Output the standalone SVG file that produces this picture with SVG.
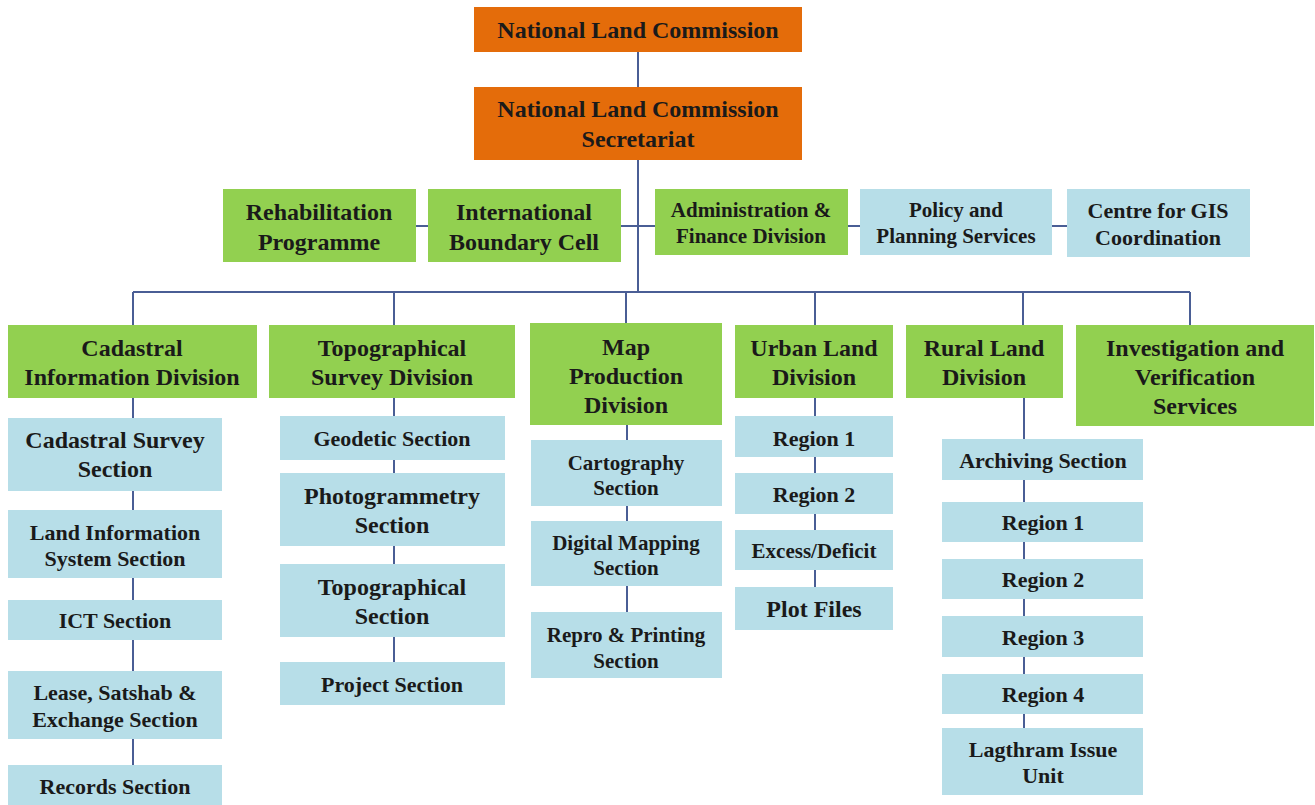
<svg xmlns="http://www.w3.org/2000/svg" width="1315" height="805" viewBox="0 0 1315 805">
  <style>
    .org { fill: #E46C0A; }
    .grn { fill: #92D050; }
    .blu { fill: #B7DEE8; }
    .t { font-family: "Liberation Serif", "Times New Roman", serif; font-weight: bold; font-size: 24px; text-anchor: middle; fill: #1a1a1a; }
    .m { font-size: 22px; }
    .s { font-size: 21px; }
    .ln { stroke: #4A5E95; stroke-width: 2; fill: none; }
  </style>
  <rect width="1315" height="805" fill="#ffffff"/>

  <!-- connectors -->
  <g id="connectors" class="ln">
    <path d="M638 52 V87 M638 160 V292"/>
    <path d="M416 226 H428 M621 226 H655 M848 226 H860 M1052 226 H1067"/>
    <path d="M133 292 H1190"/>
    <path d="M133 292 V325 M394 292 V325 M626 292 V323 M815 292 V325 M1023 292 V325 M1190 292 V325"/>
    <path d="M133 398 V765"/>
    <path d="M394 398 V662"/>
    <path d="M627 425 V612"/>
    <path d="M815 398 V587"/>
    <path d="M1024 398 V728"/>
  </g>

  <!-- top level -->
  <g id="nlc">
    <rect class="org" x="474" y="7" width="328" height="45"/>
    <text class="t" x="638" y="38">National Land Commission</text>
  </g>
  <g id="secretariat">
    <rect class="org" x="474" y="87" width="328" height="73"/>
    <text class="t" x="638" y="117">National Land Commission</text>
    <text class="t" x="638" y="147">Secretariat</text>
  </g>

  <!-- units attached to the secretariat -->
  <g id="rehabilitation">
    <rect class="grn" x="223" y="189" width="193" height="73"/>
    <text class="t" x="319" y="220">Rehabilitation</text>
    <text class="t" x="319" y="250">Programme</text>
  </g>
  <g id="boundary-cell">
    <rect class="grn" x="428" y="189" width="193" height="73"/>
    <text class="t" x="524" y="220">International</text>
    <text class="t" x="524" y="250">Boundary Cell</text>
  </g>
  <g id="admin-finance">
    <rect class="grn" x="655" y="189" width="193" height="66"/>
    <text class="t s" x="751" y="217">Administration &amp;</text>
    <text class="t s" x="751" y="243">Finance Division</text>
  </g>
  <g id="policy-planning">
    <rect class="blu" x="860" y="189" width="192" height="66"/>
    <text class="t s" x="956" y="217">Policy and</text>
    <text class="t s" x="956" y="243">Planning Services</text>
  </g>
  <g id="gis-centre">
    <rect class="blu" x="1067" y="189" width="183" height="68"/>
    <text class="t m" x="1158" y="218">Centre for GIS</text>
    <text class="t m" x="1158" y="245">Coordination</text>
  </g>

  <!-- divisions -->
  <g id="cadastral-division">
    <rect class="grn" x="8" y="325" width="249" height="73"/>
    <text class="t" x="132" y="356">Cadastral</text>
    <text class="t" x="132" y="385">Information Division</text>
  </g>
  <g id="topographical-division">
    <rect class="grn" x="269" y="325" width="246" height="73"/>
    <text class="t" x="392" y="356">Topographical</text>
    <text class="t" x="392" y="385">Survey Division</text>
  </g>
  <g id="map-division">
    <rect class="grn" x="530" y="323" width="192" height="102"/>
    <text class="t" x="626" y="355">Map</text>
    <text class="t" x="626" y="384">Production</text>
    <text class="t" x="626" y="413">Division</text>
  </g>
  <g id="urban-division">
    <rect class="grn" x="735" y="325" width="158" height="73"/>
    <text class="t" x="814" y="356">Urban Land</text>
    <text class="t" x="814" y="385">Division</text>
  </g>
  <g id="rural-division">
    <rect class="grn" x="906" y="325" width="157" height="73"/>
    <text class="t" x="984" y="356">Rural Land</text>
    <text class="t" x="984" y="385">Division</text>
  </g>
  <g id="investigation">
    <rect class="grn" x="1076" y="325" width="238" height="101"/>
    <text class="t" x="1195" y="356">Investigation and</text>
    <text class="t" x="1195" y="385">Verification</text>
    <text class="t" x="1195" y="414">Services</text>
  </g>

  <!-- cadastral sections -->
  <g id="cadastral-survey">
    <rect class="blu" x="8" y="418" width="214" height="73"/>
    <text class="t" x="115" y="448">Cadastral Survey</text>
    <text class="t" x="115" y="477">Section</text>
  </g>
  <g id="lis">
    <rect class="blu" x="8" y="510" width="214" height="68"/>
    <text class="t m" x="115" y="540">Land Information</text>
    <text class="t m" x="115" y="566">System Section</text>
  </g>
  <g id="ict">
    <rect class="blu" x="8" y="600" width="214" height="40"/>
    <text class="t m" x="115" y="628">ICT Section</text>
  </g>
  <g id="lease">
    <rect class="blu" x="8" y="671" width="214" height="68"/>
    <text class="t m" x="115" y="700">Lease, Satshab &amp;</text>
    <text class="t m" x="115" y="727">Exchange Section</text>
  </g>
  <g id="records">
    <rect class="blu" x="8" y="765" width="214" height="45"/>
    <text class="t m" x="115" y="794">Records Section</text>
  </g>

  <!-- topographical sections -->
  <g id="geodetic">
    <rect class="blu" x="280" y="416" width="225" height="44"/>
    <text class="t m" x="392" y="446">Geodetic Section</text>
  </g>
  <g id="photogrammetry">
    <rect class="blu" x="280" y="473" width="225" height="73"/>
    <text class="t" x="392" y="504">Photogrammetry</text>
    <text class="t" x="392" y="533">Section</text>
  </g>
  <g id="topographical-section">
    <rect class="blu" x="280" y="564" width="225" height="73"/>
    <text class="t" x="392" y="595">Topographical</text>
    <text class="t" x="392" y="624">Section</text>
  </g>
  <g id="project">
    <rect class="blu" x="280" y="662" width="225" height="43"/>
    <text class="t m" x="392" y="692">Project Section</text>
  </g>

  <!-- map production sections -->
  <g id="cartography">
    <rect class="blu" x="531" y="440" width="191" height="66"/>
    <text class="t s" x="626" y="470">Cartography</text>
    <text class="t s" x="626" y="495">Section</text>
  </g>
  <g id="digital-mapping">
    <rect class="blu" x="531" y="521" width="191" height="65"/>
    <text class="t s" x="626" y="550">Digital Mapping</text>
    <text class="t s" x="626" y="575">Section</text>
  </g>
  <g id="repro-printing">
    <rect class="blu" x="531" y="612" width="191" height="66"/>
    <text class="t s" x="626" y="642">Repro &amp; Printing</text>
    <text class="t s" x="626" y="668">Section</text>
  </g>

  <!-- urban land units -->
  <g id="urban-region-1">
    <rect class="blu" x="735" y="416" width="158" height="41"/>
    <text class="t m" x="814" y="446">Region 1</text>
  </g>
  <g id="urban-region-2">
    <rect class="blu" x="735" y="473" width="158" height="41"/>
    <text class="t m" x="814" y="502">Region 2</text>
  </g>
  <g id="excess-deficit">
    <rect class="blu" x="735" y="530" width="158" height="40"/>
    <text class="t s" x="814" y="558">Excess/Deficit</text>
  </g>
  <g id="plot-files">
    <rect class="blu" x="735" y="587" width="158" height="43"/>
    <text class="t" x="814" y="617">Plot Files</text>
  </g>

  <!-- rural land units -->
  <g id="archiving">
    <rect class="blu" x="942" y="439" width="201" height="41"/>
    <text class="t m" x="1043" y="468">Archiving Section</text>
  </g>
  <g id="rural-region-1">
    <rect class="blu" x="942" y="502" width="201" height="40"/>
    <text class="t m" x="1043" y="530">Region 1</text>
  </g>
  <g id="rural-region-2">
    <rect class="blu" x="942" y="559" width="201" height="40"/>
    <text class="t m" x="1043" y="587">Region 2</text>
  </g>
  <g id="rural-region-3">
    <rect class="blu" x="942" y="616" width="201" height="41"/>
    <text class="t m" x="1043" y="645">Region 3</text>
  </g>
  <g id="rural-region-4">
    <rect class="blu" x="942" y="674" width="201" height="40"/>
    <text class="t m" x="1043" y="702">Region 4</text>
  </g>
  <g id="lagthram">
    <rect class="blu" x="942" y="728" width="201" height="67"/>
    <text class="t m" x="1043" y="757">Lagthram Issue</text>
    <text class="t m" x="1043" y="783">Unit</text>
  </g>
</svg>
